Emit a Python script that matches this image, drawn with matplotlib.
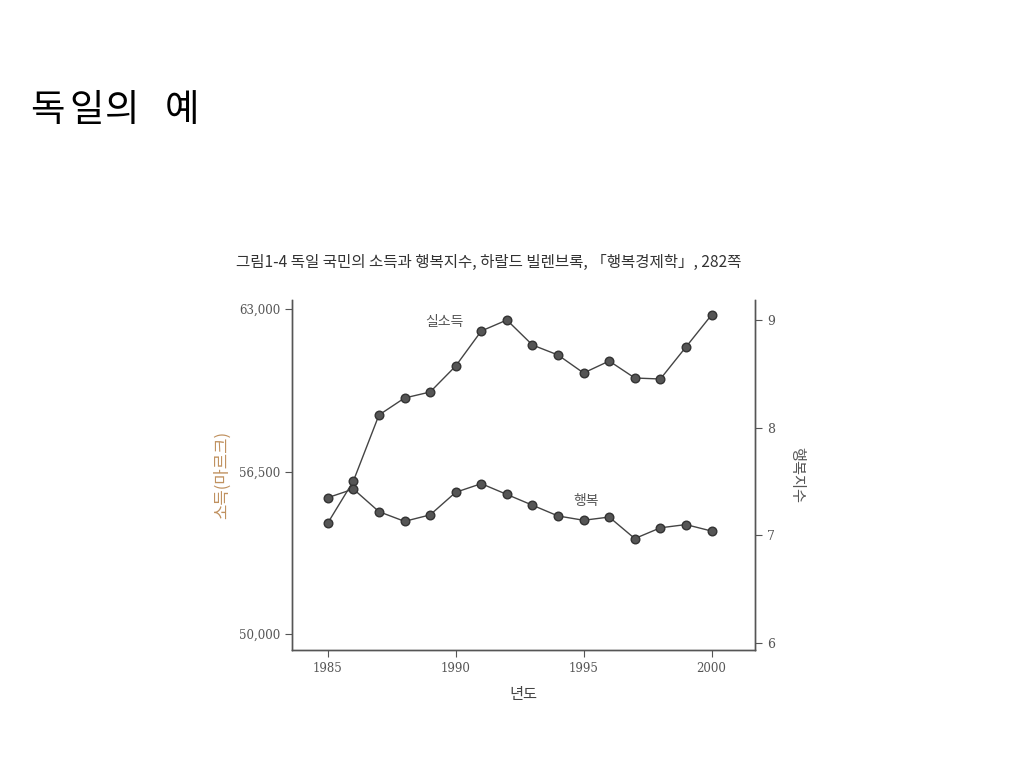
import matplotlib
matplotlib.use("Agg")
import matplotlib.pyplot as plt

plt.rcParams['font.family'] = ['Noto Sans CJK KR', 'DejaVu Sans']

years = [1985, 1986, 1987, 1988, 1989, 1990, 1991, 1992,
         1993, 1994, 1995, 1996, 1997, 1998, 1999, 2000]
income = [54440, 56120, 58760, 59440, 59680, 60720, 62120, 62560,
          61560, 61160, 60440, 60920, 60240, 60200, 61480, 62760]
happiness = [7.35, 7.43, 7.22, 7.13, 7.19, 7.40, 7.48, 7.38,
             7.28, 7.18, 7.14, 7.17, 6.97, 7.07, 7.10, 7.04]

income_ticks = [50000, 56500, 63000]
income_ticklabels = ['50,000', '56,500', '63,000']
happy_ticks = [6, 7, 8, 9]
year_ticks = [1985, 1990, 1995, 2000]

slide_title = '독일의 예'
caption = '그림1-4 독일 국민의 소득과 행복지수, 하랄드 빌렌브록, 「행복경제학」, 282쪽'

fig = plt.figure(figsize=(10.24, 7.68), dpi=100)

# slide title, letters spaced like the reference's wide font
title_x = [47, 87, 122, None, 182]
for ch, xc in zip(slide_title, title_x):
    if xc is None:
        continue
    fig.text(xc/1024, 1 - 110/768, ch, fontsize=27, va='center', ha='center',
             color='black', weight='medium')

fig.text(236/1024, 1 - 262/768, caption, fontsize=11.2, va='center', ha='left',
         color='#333333')

ax = fig.add_axes([292/1024, 118/768, 463/1024, 350/768])
ax2 = ax.twinx()

line_kw = dict(color='#444444', lw=1.0, marker='o', markersize=6.2,
               markerfacecolor='#555555', markeredgecolor='#333333')
ax.plot(years, income, **line_kw)
ax2.plot(years, happiness, **line_kw)

ax.set_xlim(1983.6, 2001.7)
ax.set_ylim(49360, 63360)
ax2.set_ylim(5.935, 9.186)

serif = 'DejaVu Serif'
ax.set_yticks(income_ticks)
ax.set_yticklabels(income_ticklabels, family=serif, fontsize=8.5, color='#555555')
ax.set_xticks(year_ticks)
ax.set_xticklabels([str(y) for y in year_ticks], family=serif, fontsize=8.5,
                   color='#444444')
ax2.set_yticks(happy_ticks)
ax2.set_yticklabels([str(t) for t in happy_ticks], family=serif, fontsize=9,
                    color='#555555')

for a in (ax, ax2):
    a.spines['top'].set_visible(False)
    for s in ('left', 'right', 'bottom'):
        a.spines[s].set_color('#555555')
        a.spines[s].set_linewidth(1.0)
    a.tick_params(direction='out', length=5, width=0.8, colors='#555555')

ax.set_ylabel('소득(마르크)', fontsize=12, color='#c0915f', labelpad=6)
ax2.set_ylabel('행복지수', fontsize=11, color='#555555', rotation=270,
               labelpad=22)
ax.set_xlabel('년도', fontsize=11, color='#444444', labelpad=8)

ax.text(1989.57, 62480, '실소득', fontsize=10, color='#555555',
        ha='center', va='center')
ax2.text(1995.1, 7.32, '행복', fontsize=10, color='#555555',
         ha='center', va='center')

fig.savefig('out.png', dpi=100)
